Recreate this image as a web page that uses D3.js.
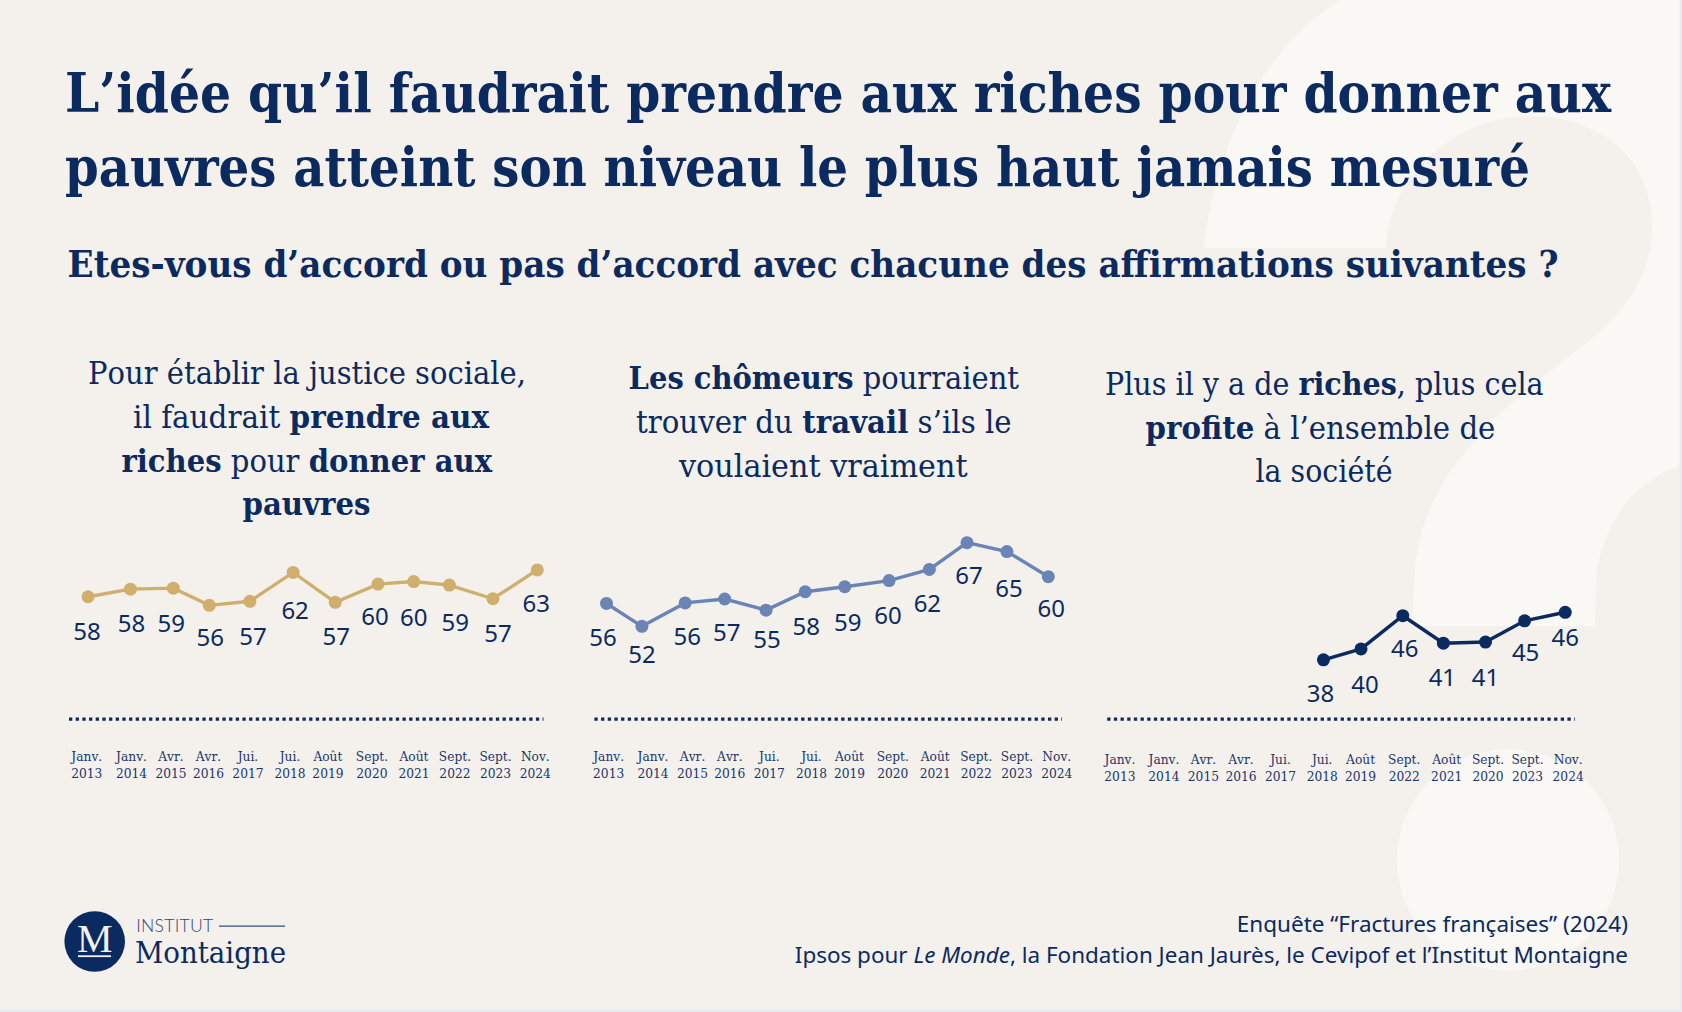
<!DOCTYPE html>
<html>
<head>
<meta charset="utf-8">
<script src="https://cdn.jsdelivr.net/npm/d3@7"></script>
<style>
  html, body { margin: 0; padding: 0; background: #e9ebf0; }
  svg { display: block; }
  text { fill: #0b2a60; }
  .serif { font-family: "DejaVu Serif", serif; font-stretch: condensed; font-kerning: none; }
  .sans { font-family: "Noto Sans", sans-serif; }
</style>
</head>
<body>
<div id="chart"></div>
<script>
var tickMonths = ["Janv.", "Janv.", "Avr.", "Avr.", "Jui.", "Jui.", "Août", "Sept.", "Août", "Sept.", "Sept.", "Nov."];
var tickYears  = ["2013", "2014", "2015", "2016", "2017", "2018", "2019", "2020", "2021", "2022", "2023", "2024"];
// the third panel of the source prints these two out of order
var tickMonths3 = ["Janv.", "Janv.", "Avr.", "Avr.", "Jui.", "Jui.", "Août", "Sept.", "Août", "Sept.", "Sept.", "Nov."];
var tickYears3  = ["2013", "2014", "2015", "2016", "2017", "2018", "2019", "2022", "2021", "2020", "2023", "2024"];

// survey dates, as spaced on each panel (decimal years)
var wavesA = [2013, 2014.12, 2015.25, 2016.2, 2017.27, 2018.41, 2019.52, 2020.65, 2021.59, 2022.53, 2023.68, 2024.85];
var wavesB = [2013, 2013.95, 2015.11, 2016.17, 2017.28, 2018.33, 2019.39, 2020.58, 2021.66, 2022.67, 2023.74, 2024.85];
var wavesC = [2018.41, 2019.41, 2020.52, 2021.6, 2022.72, 2023.76, 2024.84];

// printed percentages
var labelsA = [58, 58, 59, 56, 57, 62, 57, 60, 60, 59, 57, 63];
var labelsB = [56, 52, 56, 57, 55, 58, 59, 60, 62, 67, 65, 60];
var labelsC = [38, 40, 46, 41, 41, 45, 46];

// height of each point as drawn
var levelsA = [57.7, 59.2, 59.4, 56, 56.8, 62.5, 56.6, 60.2, 60.7, 60, 57.3, 63];
var levelsB = [56.1, 52, 56.2, 56.9, 54.9, 58.2, 59.1, 60.2, 62.2, 67, 65.4, 60.9];
var levelsC = [38, 39.9, 45.7, 40.9, 41.1, 44.8, 46.3];

var ticksAtA = [2012.97, 2014.15, 2015.19, 2016.18, 2017.22, 2018.33, 2019.33, 2020.49, 2021.6, 2022.68, 2023.75, 2024.8];
var ticksAtB = [2013.06, 2014.25, 2015.31, 2016.31, 2017.37, 2018.5, 2019.52, 2020.68, 2021.82, 2022.92, 2024.01, 2025.08];
var ticksAtC = [2013, 2014.17, 2015.22, 2016.22, 2017.27, 2018.38, 2019.4, 2020.56, 2021.69, 2022.79, 2023.84, 2024.92];

var headA = [
  [["Pour établir la justice sociale,", 0]],
  [["il faudrait ", 0], ["prendre aux", 1]],
  [["riches", 1], [" pour ", 0], ["donner aux", 1]],
  [["pauvres", 1]]
];
var headB = [
  [["Les chômeurs", 1], [" pourraient", 0]],
  [["trouver du ", 0], ["travail", 1], [" s’ils le", 0]],
  [["voulaient vraiment", 0]]
];
var headC = [
  [["Plus il y a de ", 0], ["riches", 1], [", plus cela", 0]],
  [["profite", 1], [" à l’ensemble de", 0]],
  [["la société", 0]]
];

var w = 1682, h = 1012;
var ink = "#0b2a60";

var svg = d3.select("#chart").append("svg")
  .attr("width", w)
  .attr("height", h);

svg.append("rect")
  .attr("width", w - 2.5)
  .attr("height", h - 2.5)
  .attr("fill", "#f4f1ec");

// the big pale question mark behind everything
var mark = svg.append("g").attr("fill", "#f9f8f5");
mark.append("path")
  .attr("d", "M1204,248 C1215,140 1270,40 1341,0 L1679.5,0 L1679.5,466 C1640,480 1610,510 1597,568 L1595,626 L1412,626 " +
             "L1415,568 C1425,470 1500,410 1571,355 C1620,320 1652,280 1652,226 C1652,150 1590,116 1530,116 " +
             "C1460,116 1390,170 1386,248 Z");
mark.append("circle")
  .attr("cx", 1508)
  .attr("cy", 860)
  .attr("r", 111);

var fitted = function(x, y, size, weight, len, txt) {
  return svg.append("text")
    .attr("class", "serif")
    .attr("x", x)
    .attr("y", y)
    .attr("font-size", size)
    .attr("font-weight", weight)
    .attr("textLength", len)
    .attr("lengthAdjust", "spacingAndGlyphs")
    .text(txt);
};

fitted(65, 112.4, 54, 700, 1546, "L’idée qu’il faudrait prendre aux riches pour donner aux");
fitted(65, 185.9, 54, 700, 1465, "pauvres atteint son niveau le plus haut jamais mesuré");
fitted(67.6, 276.6, 36.5, 700, 1491, "Etes-vous d’accord ou pas d’accord avec chacune des affirmations suivantes ?");

var panel = function(p) {
  p.head.forEach(function(line, i) {
    var t = svg.append("text")
      .attr("class", "serif")
      .attr("x", p.headBox[i][0])
      .attr("y", p.headY[i])
      .attr("font-size", 31)
      .attr("textLength", p.headBox[i][1])
      .attr("lengthAdjust", "spacingAndGlyphs");
    line.forEach(function(run) {
      t.append("tspan")
        .attr("font-weight", run[1] ? 700 : 400)
        .style("white-space", "pre")
        .text(run[0]);
    });
  });

  var x = d3.scaleLinear().domain([2013, 2024.85]).range(p.xRange);
  var y = d3.scaleLinear().domain(p.yDomain).range(p.yRange);

  svg.append("line")
    .attr("x1", p.rule[0])
    .attr("x2", p.rule[1])
    .attr("y1", 719.2)
    .attr("y2", 719.2)
    .attr("stroke", ink)
    .attr("stroke-width", 3.3)
    .attr("stroke-dasharray", "3.3 3.37");

  var axis = d3.axisBottom(x)
    .tickValues(p.ticksAt)
    .tickSize(0)
    .tickFormat("");

  var ag = svg.append("g")
    .attr("transform", "translate(0," + p.tickY + ")")
    .call(axis);
  ag.select(".domain").remove();
  ag.selectAll(".tick text").each(function(d, i) {
    var t = d3.select(this)
      .attr("class", "serif")
      .attr("y", 0)
      .attr("dy", null)
      .attr("font-size", 13.6)
      .attr("text-anchor", "middle")
      .style("fill", "#1a3569");
    t.append("tspan").attr("x", -0.6).attr("y", 0).text(p.months[i]);
    t.append("tspan").attr("x", -0.6).attr("y", 17.6).text(p.years[i]);
  });

  var pts = p.waves.map(function(d, i) { return { x: d, y: p.levels[i], label: p.labels[i] }; });
  var line = d3.line().x(function(d) { return x(d.x); }).y(function(d) { return y(d.y); });

  svg.append("path")
    .datum(pts)
    .attr("d", line)
    .attr("fill", "none")
    .attr("stroke", p.color)
    .attr("stroke-width", 3.4);

  svg.selectAll(null)
    .data(pts)
    .enter().append("circle")
    .attr("cx", function(d) { return x(d.x); })
    .attr("cy", function(d) { return y(d.y); })
    .attr("r", 6.5)
    .attr("fill", p.color);

  svg.selectAll(null)
    .data(pts)
    .enter().append("text")
    .attr("class", "sans")
    .attr("x", function(d, i) { return x(d.x) + p.nudge[i][0]; })
    .attr("y", function(d, i) { return y(d.y) + p.nudge[i][1] - 0.4; })
    .attr("font-size", 24)
    .attr("text-anchor", "middle")
    .attr("dominant-baseline", "central")
    .text(function(d) { return d.label; });
};

panel({
  head: headA,
  headBox: [[88, 438], [133, 356], [121.5, 370.5], [242.5, 128]],
  headY: [384, 427.5, 471.7, 515],
  waves: wavesA, levels: levelsA, labels: labelsA, ticksAt: ticksAtA,
  months: tickMonths, years: tickYears,
  color: "#d0ae6e",
  xRange: [88, 537.3],
  yDomain: [35, 70], yRange: [711.6, 534.5],
  rule: [69, 543.5],
  tickY: 760.5,
  nudge: [[-1,34],[1,34],[-2,35],[1,32],[3,35],[2,37],[1,34],[-3,32],[0,35],[6,37],[5,34],[-1,33]]
});

panel({
  head: headB,
  headBox: [[628.6, 390.4], [636, 375.6], [679, 288.6]],
  headY: [389.4, 433.3, 477],
  waves: wavesB, levels: levelsB, labels: labelsB, ticksAt: ticksAtB,
  months: tickMonths, years: tickYears,
  color: "#6a84b5",
  xRange: [606.5, 1048.3],
  yDomain: [35, 70], yRange: [721.2, 525.9],
  rule: [594.4, 1062],
  tickY: 760.5,
  nudge: [[-3.5,33],[0,28],[2,33],[2,33],[1,29],[1,34],[3,35],[-1,34],[-2,33],[2,32],[2,36],[3,31]]
});

panel({
  head: headC,
  headBox: [[1105, 438.6], [1145.6, 349.8], [1255.5, 137]],
  headY: [394.5, 438.5, 481.5],
  waves: wavesC, levels: levelsC, labels: labelsC, ticksAt: ticksAtC,
  months: tickMonths3, years: tickYears3,
  color: ink,
  xRange: [1120, 1565.6],
  yDomain: [30, 50], yRange: [705.6, 591.1],
  rule: [1107.2, 1574.8],
  tickY: 763.5,
  nudge: [[-3,33],[4,35],[2,32],[-1,34],[0,35],[1,31],[0,25]]
});

// logo
var logo = svg.append("g");
logo.append("circle").attr("cx", 94.7).attr("cy", 941.5).attr("r", 30.3).attr("fill", ink);
logo.append("text")
  .attr("x", 94.7).attr("y", 952.2)
  .attr("font-family", "Liberation Serif, serif")
  .attr("font-size", 40)
  .attr("text-anchor", "middle")
  .style("fill", "#f4f1ec")
  .text("M");
logo.append("rect").attr("x", 78).attr("y", 955.3).attr("width", 33).attr("height", 1.8).attr("fill", "#f4f1ec");
logo.append("text")
  .attr("x", 136.2).attr("y", 932)
  .attr("font-family", "Lato, sans-serif")
  .attr("font-weight", 300)
  .attr("font-size", 17.6)
  .attr("textLength", 77)
  .style("fill", "#2b4675")
  .text("INSTITUT");
logo.append("line")
  .attr("x1", 219).attr("x2", 285)
  .attr("y1", 926.2).attr("y2", 926.2)
  .attr("stroke", "#33507f")
  .attr("stroke-width", 1.3);
logo.append("text")
  .attr("class", "serif")
  .attr("x", 135).attr("y", 962.8)
  .attr("font-size", 30)
  .attr("textLength", 151)
  .attr("lengthAdjust", "spacingAndGlyphs")
  .text("Montaigne");

// source lines
svg.append("text")
  .attr("class", "sans")
  .attr("x", 1628).attr("y", 932)
  .attr("font-size", 22.5)
  .attr("text-anchor", "end")
  .text("Enquête “Fractures françaises” (2024)");
var src = svg.append("text")
  .attr("class", "sans")
  .attr("x", 1628).attr("y", 963)
  .attr("font-size", 22.45)
  .attr("text-anchor", "end");
src.append("tspan").text("Ipsos pour ");
src.append("tspan").attr("font-style", "italic").text("Le Monde");
src.append("tspan").text(", la Fondation Jean Jaurès, le Cevipof et l’Institut Montaigne");
</script>
</body>
</html>
